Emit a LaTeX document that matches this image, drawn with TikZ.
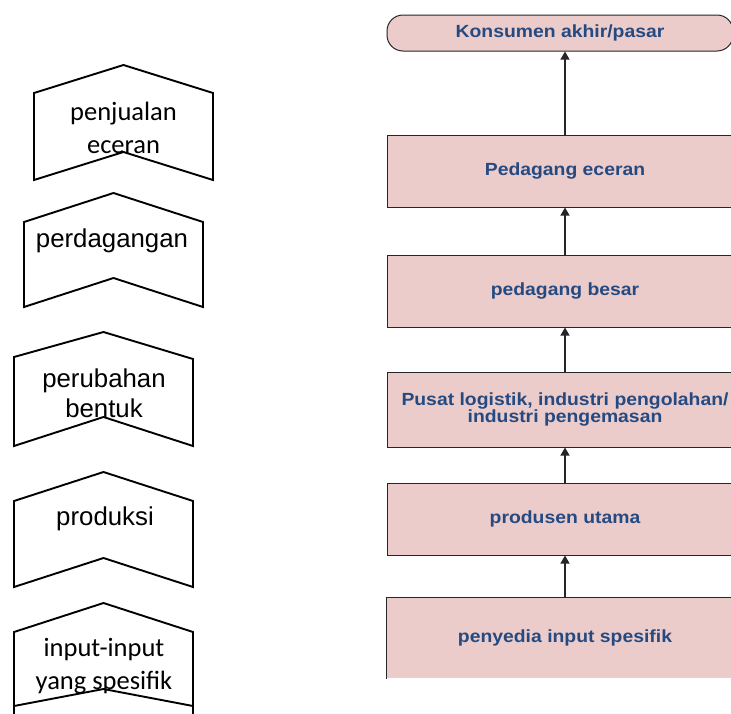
\documentclass[tikz,border=0pt]{standalone}
\usepackage{fontspec}
\setmainfont{Liberation Sans}
\newfontfamily\arialL{Liberation Sans}
\newfontfamily\calL{Carlito}
\newfontfamily\boxF{Liberation Sans}[FakeStretch=1.1]
\usetikzlibrary{arrows.meta}
\definecolor{boxpink}{RGB}{236,204,203}
\definecolor{boxblue}{RGB}{37,74,130}
\begin{document}
\begin{tikzpicture}[x=1pt,y=-1pt,
  chev/.style={draw=black,line width=1.9pt,line join=miter},
  lbl/.style={align=center,inner sep=0pt},
  arialtxt/.style={lbl,font=\arialL\fontsize{25.8}{30}\selectfont},
  caltxt/.style={lbl,font=\calL\fontsize{26.5}{33}\selectfont},
  flowbox/.style={draw=black!85,line width=1pt,fill=boxpink,minimum width=356pt,minimum height=72pt,inner sep=0pt,
    font=\boxF\bfseries\fontsize{17.6}{17.5}\selectfont,text=boxblue,align=center},
  up/.style={-{Triangle[width=9pt,length=8pt]},line width=1.2pt,draw=black!85}
]
\useasboundingbox (0,0) rectangle (731,713);

% left chevron shapes
\draw[chev] (34,93) -- (123.5,65) -- (213,93) -- (213,180) -- (123.5,152) -- (34,180) -- cycle;
\draw[chev] (24,222) -- (113.5,193) -- (203,222) -- (203,307) -- (113.5,278) -- (24,307) -- cycle;
\draw[chev] (14,357) -- (103.5,332) -- (193,359) -- (193,446) -- (103.5,417) -- (14,446) -- cycle;
\draw[chev] (14,501) -- (103.5,472) -- (193,501) -- (193,587) -- (103.5,558) -- (14,587) -- cycle;
\draw[chev] (14,720) -- (14,632) -- (103.5,603) -- (193,632) -- (193,720);
\draw[chev] (14,706) -- (103.5,689) -- (193,706);

\node[caltxt] (t1) at (123.5,128) {penjualan\\eceran};
\node[arialtxt] (t2) at (112,241) {perdagangan};
\node[arialtxt] (t3) at (104,393) {perubahan\\bentuk};
\node[arialtxt] (t4) at (105,519) {produksi};
\node[caltxt] (t5) at (104,666) {input-input\\yang spesifik};

% right flow
\node[flowbox,rounded corners=16pt,minimum width=346pt,minimum height=36pt] (kons) at (560,33) {Konsumen akhir/pasar};
\node[flowbox] (pe) at (565,171) {Pedagang eceran};
\node[flowbox] (pb) at (565,291) {pedagang besar};
\node[flowbox,minimum height=75pt] (pl) at (565,409.5) {Pusat logistik, industri pengolahan/\\industri pengemasan};
\node[flowbox] (pu) at (565,519) {produsen utama};
\node[flowbox,draw=none,minimum height=80pt] (pi) at (565,638) {penyedia input spesifik};
\draw[draw=black!85,line width=1pt] (pi.south west) -- (pi.north west) -- (pi.north east);

\draw[up] (pe.north) -- (pe.north |- kons.south);
\draw[up] (pb.north) -- (pe.south);
\draw[up] (pl.north) -- (pb.south);
\draw[up] (pu.north) -- (pl.south);
\draw[up] (pi.north) -- (pu.south);
\end{tikzpicture}
\end{document}
